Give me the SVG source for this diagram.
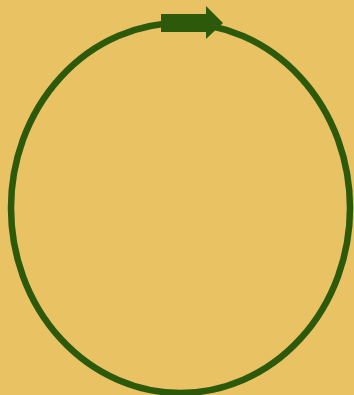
<svg xmlns="http://www.w3.org/2000/svg" width="354" height="395" viewBox="0 0 354 395">
<style>.c{fill:none;stroke:#2d5a0a;stroke-width:6.5}.a{fill:#2d5a0a}</style>
<rect width="354" height="395" fill="#e9c264"/>
<g id="connectors">
<ellipse class="c" cx="180.5" cy="208" rx="169.5" ry="185"/>
</g>
<g id="arrow">
<polygon class="a" points="161,14 206,14 206,6 223,23 206,39 206,32 161,32"/>
</g>
</svg>
